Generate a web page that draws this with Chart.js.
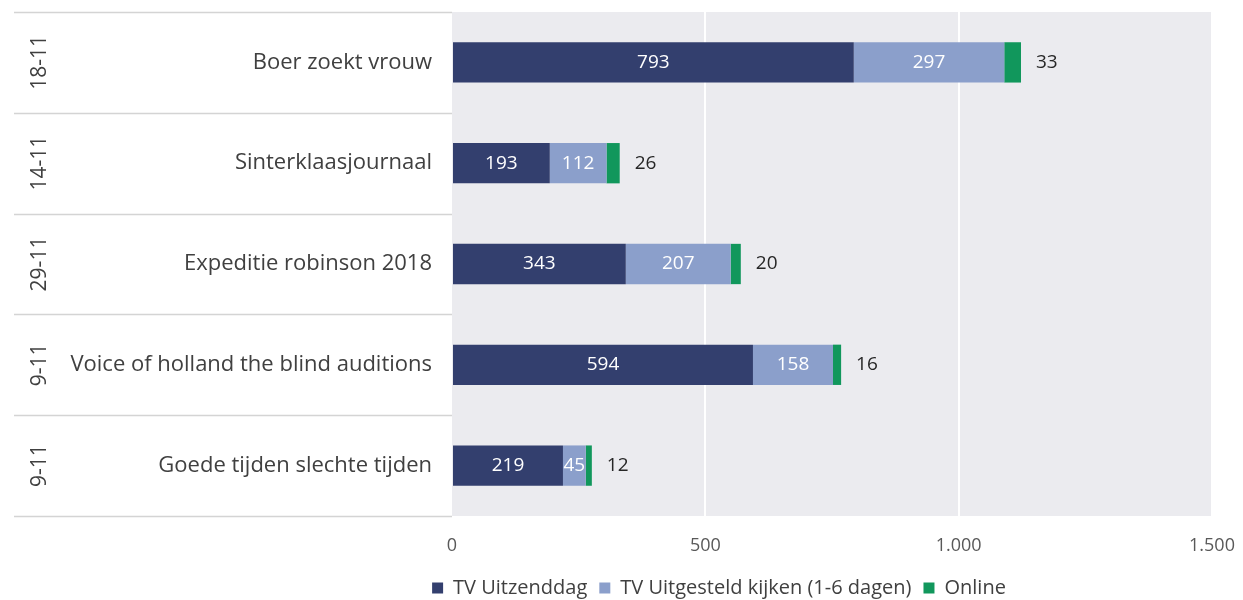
<!DOCTYPE html>
<html>
<head>
<meta charset="utf-8">
<script src="https://cdn.jsdelivr.net/npm/chart.js@4"></script>
<style>
  html, body { margin: 0; padding: 0; background: #fff; }
  #wrap { width: 1243px; height: 600px; }
</style>
</head>
<body>
<div id="wrap"><canvas id="kijkChart" width="1243" height="600"></canvas></div>
<script>
const programmas = ['Boer zoekt vrouw', 'Sinterklaasjournaal', 'Expeditie robinson 2018', 'Voice of holland the blind auditions', 'Goede tijden slechte tijden'];
const datums = ['18-11', '14-11', '29-11', '9-11', '9-11'];
const uitzenddag = [793, 193, 343, 594, 219];
const uitgesteld = [297, 112, 207, 158, 45];
const online = [33, 26, 20, 16, 12];
const seriesNames = ['TV Uitzenddag', 'TV Uitgesteld kijken (1-6 dagen)', 'Online'];
const xTicks = [0, 500, 1000, 1500];

const FONT = '"Open Sans", Lato, sans-serif';

// grey plot background + white left panel with row lines, dates and names
const panelPlugin = {
    id: 'panel',
    beforeDraw(chart) {
        const ctx = chart.ctx;
        const a = chart.chartArea;
        const y = chart.scales.y;
        ctx.save();
        ctx.fillStyle = '#ebebef';
        ctx.fillRect(a.left, a.top, a.right - a.left, a.bottom - a.top);
        ctx.strokeStyle = '#d4d4d4';
        ctx.lineWidth = 1.5;
        const step = (a.bottom - a.top) / programmas.length;
        for (let i = 0; i <= programmas.length; i++) {
            const yy = Math.round(a.top + i * step) + 0.5;
            ctx.beginPath();
            ctx.moveTo(14, yy);
            ctx.lineTo(a.left, yy);
            ctx.stroke();
        }
        ctx.fillStyle = '#404040';
        ctx.textBaseline = 'middle';
        programmas.forEach((p, i) => {
            const py = y.getPixelForValue(i);
            ctx.font = '22px ' + FONT;
            ctx.textAlign = 'right';
            ctx.fillText(p, a.left - 20, py);
            ctx.save();
            ctx.translate(40, py);
            ctx.rotate(-Math.PI / 2);
            ctx.font = '21px ' + FONT;
            ctx.textAlign = 'center';
            ctx.fillText(datums[i], 0, 0);
            ctx.restore();
        });
        ctx.restore();
    },
    afterDatasetsDraw(chart) {
        const ctx = chart.ctx;
        ctx.save();
        ctx.font = '19px ' + FONT;
        ctx.textBaseline = 'middle';
        chart.data.datasets.forEach((ds, di) => {
            const meta = chart.getDatasetMeta(di);
            meta.data.forEach((bar, i) => {
                const v = ds.data[i];
                if (di < 2) {
                    ctx.fillStyle = '#ffffff';
                    ctx.textAlign = 'center';
                    ctx.fillText(v, (bar.x + bar.base) / 2, bar.y);
                } else {
                    ctx.fillStyle = '#262626';
                    ctx.textAlign = 'left';
                    ctx.fillText(v, bar.x + 15, bar.y);
                }
            });
        });
        ctx.restore();
    }
};

new Chart(document.getElementById('kijkChart').getContext('2d'), {
    type: 'bar',
    data: {
        labels: programmas,
        datasets: [
            { label: seriesNames[0], data: uitzenddag, backgroundColor: '#333f6e' },
            { label: seriesNames[1], data: uitgesteld, backgroundColor: '#8b9fcb' },
            { label: seriesNames[2], data: online, backgroundColor: '#11975c' }
        ]
    },
    options: {
        indexAxis: 'y',
        responsive: false,
        animation: false,
        layout: {
            padding: { left: 226, right: 31, top: 12, bottom: -8 }
        },
        datasets: {
            bar: { barPercentage: 0.8, categoryPercentage: 0.5, borderWidth: 0 }
        },
        plugins: {
            legend: {
                position: 'bottom',
                labels: {
                    boxWidth: 11,
                    boxHeight: 11,
                    padding: 12,
                    color: '#404040',
                    font: { family: FONT, size: 20 }
                }
            },
            tooltip: { enabled: false }
        },
        scales: {
            x: {
                stacked: true,
                min: 0,
                max: 1500,
                border: { display: false },
                afterBuildTicks(scale) {
                    scale.ticks = xTicks.map(v => ({ value: v }));
                },
                afterFit(scale) {
                    scale.height = 50;
                    scale.paddingLeft = 0;
                    scale.paddingRight = 0;
                },
                ticks: {
                    color: '#595959',
                    padding: 19,
                    font: { family: FONT, size: 18 },
                    callback: v => v.toLocaleString('nl-NL')
                },
                grid: {
                    color: ctx => ctx.tick && ctx.tick.value === 0 ? 'rgba(0,0,0,0)' : '#ffffff',
                    lineWidth: 2,
                    drawTicks: false
                }
            },
            y: {
                stacked: true,
                border: { display: false },
                ticks: { display: false },
                grid: { display: false },
                afterFit(scale) { scale.width = 226; }
            }
        }
    },
    plugins: [panelPlugin]
});
</script>
</body>
</html>
